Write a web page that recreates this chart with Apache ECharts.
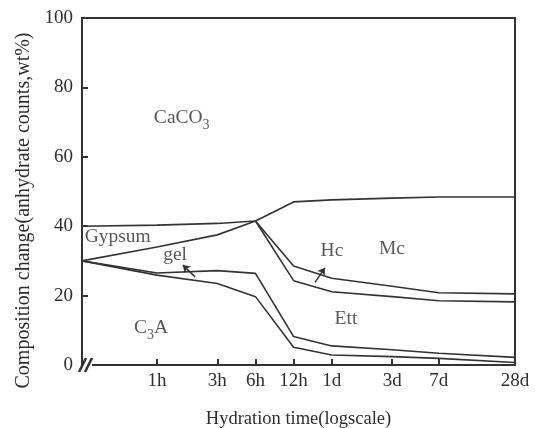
<!DOCTYPE html>
<html>
<head>
<meta charset="utf-8">
<script src="https://cdn.jsdelivr.net/npm/echarts@6/dist/echarts.min.js"></script>
<style>
  html, body { margin: 0; padding: 0; background: #fff; }
  #chart { width: 536px; height: 428px; }
</style>
</head>
<body>
<div id="chart"></div>
<script>
// time axis, in hours (log scale); t0 stands for "time zero" at the left edge
const t0 = 0.256;
const tickHours = [1, 3, 6, 12, 24, 72, 168, 672];
const tickLabels = ["1h", "3h", "6h", "12h", "1d", "3d", "7d", "28d"];
const times = [t0, 1, 3, 6, 12, 24, 72, 168, 672];

// phase boundaries (wt%), one value per entry of times
const caco3Bottom = [40, 40.3, 40.8, 41.5, 47, 47.6, 48.1, 48.4, 48.4];
const gypsumBottom = [30, 34, 37.5, 41.5, 28.5, 25, 22.7, 20.8, 20.5];
const hcBottom = [null, null, null, 41.5, 24.3, 21.1, 19.7, 18.5, 18.2];
const gelTop = [30, 26.5, 27.2, 26.4, 8.2, 5.5, 4.4, 3.4, 2.2];
const c3aTop = [30, 25.9, 23.5, 19.7, 5.1, 2.9, 2.4, 1.9, 0.7];

// region labels: [text, hours, wt%]
const regionLabels = [
    ["{t|CaCO}{s|3}", 1.57, 71.2],
    ["{t|Gypsum}", 0.49, 37],
    ["{t|gel}", 1.39, 31.6],
    ["{t|C}{s|3}{t|A}", 0.9, 10.7],
    ["{t|Hc}", 24.1, 33],
    ["{t|Mc}", 71.8, 33.4],
    ["{t|Ett}", 31.1, 13.3]
];

// pointer arrows: [fromHours, fromWt, toHours, toWt]
const arrows = [
    [2.0, 25.4, 1.6, 28.8],
    [17.7, 23.8, 21.2, 28.0]
];

const font = "Liberation Serif, Times New Roman, serif";
const ink = "#333";

function pairs(values) {
    return times.map((t, i) => [t, values[i]]).filter(p => p[1] != null);
}

function boundary(name, values) {
    return {
        name: name,
        type: "line",
        data: pairs(values),
        symbol: "none",
        lineStyle: { color: ink, width: 1.6 },
        silent: true
    };
}

const chart = echarts.init(document.getElementById("chart"));

const option = {
    animation: false,
    grid: {
        left: 82, right: 21, top: 18, bottom: 63,
        show: true, borderColor: "#333", borderWidth: 2,
        containLabel: false, outerBoundsMode: "none"
    },
    xAxis: {
        type: "log",
        min: t0,
        max: 672,
        name: "Hydration time(logscale)",
        nameLocation: "middle",
        nameGap: 45,
        nameTextStyle: { fontFamily: font, fontSize: 18.5, color: "#2e2e2e" },
        axisLine: { lineStyle: { color: "#333", width: 2 } },
        axisTick: {
            inside: true, length: 6, customValues: tickHours,
            lineStyle: { color: "#333", width: 2 }
        },
        axisLabel: {
            customValues: tickHours,
            fontFamily: font, fontSize: 19, color: "#2e2e2e", margin: 7,
            formatter: function (v) {
                const i = tickHours.findIndex(h => Math.abs(h - v) < 1e-6 * h);
                return i >= 0 ? tickLabels[i] : "";
            }
        },
        splitLine: { show: false }
    },
    yAxis: {
        type: "value",
        min: 0,
        max: 100,
        interval: 20,
        name: "Composition change(anhydrate counts,wt%)",
        nameLocation: "middle",
        nameGap: 41,
        nameTextStyle: {
            fontFamily: font, fontSize: 20, color: "#2e2e2e",
            padding: [0, 38, 0, 0]
        },
        axisLine: { show: true, lineStyle: { color: "#333", width: 2 } },
        axisTick: { show: true, inside: true, length: 6, lineStyle: { color: "#333", width: 2 } },
        axisLabel: { fontFamily: font, fontSize: 19, color: "#2e2e2e", margin: 9 },
        splitLine: { show: false }
    },
    series: [
        boundary("CaCO3", caco3Bottom),
        boundary("Gypsum", gypsumBottom),
        boundary("Hc", hcBottom),
        boundary("gel", gelTop),
        boundary("C3A", c3aTop),
        {
            name: "labels",
            type: "scatter",
            symbolSize: 0,
            silent: true,
            data: regionLabels.map(r => ({ value: [r[1], r[2]], text: r[0] })),
            label: {
                show: true,
                position: "inside",
                formatter: p => p.data.text,
                rich: {
                    t: { fontFamily: font, fontSize: 19.5, color: "#2e2e2e" },
                    s: { fontFamily: font, fontSize: 14, color: "#2e2e2e", padding: [14, 0, 0, 0] }
                }
            },
            markLine: {
                silent: true,
                symbol: ["none", "arrow"],
                symbolSize: 7,
                label: { show: false },
                lineStyle: { color: ink, width: 1.5, type: "solid" },
                data: arrows.map(a => [{ coord: [a[0], a[1]] }, { coord: [a[2], a[3]] }])
            }
        }
    ],
    graphic: [
        { type: "rect", shape: { x: 83, y: 362, width: 9, height: 6 }, style: { fill: "#fff" }, z: 100 },
        { type: "line", shape: { x1: 79, y1: 372, x2: 86, y2: 358 }, style: { stroke: "#333", lineWidth: 2.5 }, z: 101 },
        { type: "line", shape: { x1: 85, y1: 372, x2: 92, y2: 358 }, style: { stroke: "#333", lineWidth: 2.5 }, z: 101 }
    ]
};

chart.setOption(option);
</script>
</body>
</html>
